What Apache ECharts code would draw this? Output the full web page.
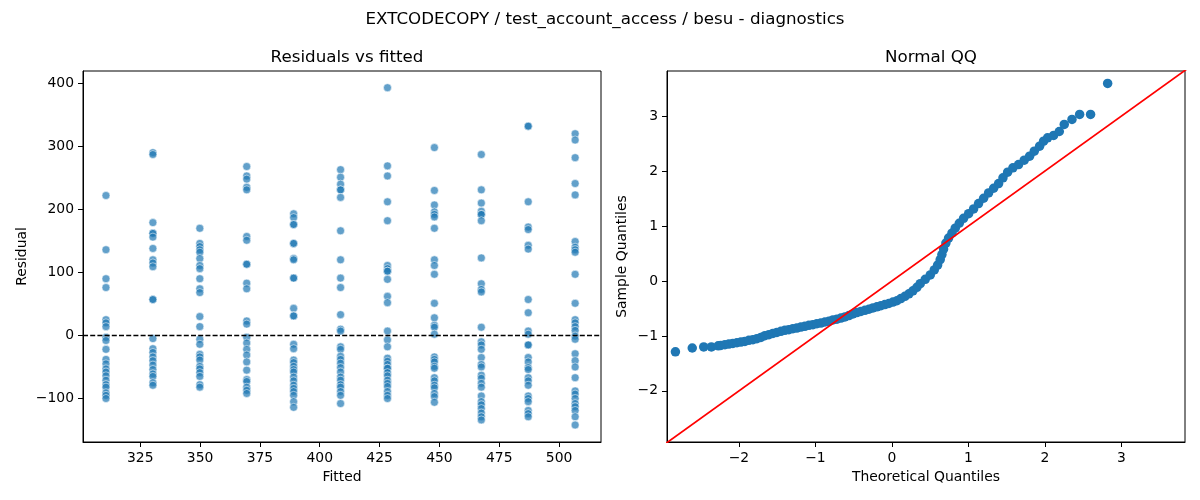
<!DOCTYPE html>
<html>
<head>
<meta charset="utf-8">
<title>EXTCODECOPY / test_account_access / besu - diagnostics</title>
<script src="https://cdn.jsdelivr.net/npm/echarts@6/dist/echarts.min.js"></script>
<style>
  html, body { margin: 0; padding: 0; background: #fff; }
  #chart { width: 1200px; height: 500px; }
</style>
</head>
<body>
<div id="chart"></div>
<script>
// fitted value of each column in the residual plot
var fittedValues = [310.7, 330.3, 349.9, 369.5, 389.1, 408.7, 428.3, 447.9, 467.5, 487.1, 506.7];

// residuals read per column (repeated values = overlapping points)
var residCol1 = [222, 136, 90, 76, 25, 20, 14, -3, -8, -22, -38, -45, -53, -58, -64, -71, -78, -82, -91, -95, -100];
var residCol2 = [290, 287, 179, 162, 162, 156, 138, 120, 115, 109, 57, 57, -5, -21, -27, -34, -40, -47, -54, -61, -65, -75, -79];
var residCol3 = [170, 146, 141, 136, 132, 122, 111, 106, 90, 74, 68, 30, 14, -6, -14, -30, -34, -39, -49, -53, -59, -65, -78, -82];
var residCol4 = [268, 253, 248, 235, 231, 157, 151, 113, 113, 83, 74, 23, 18, -3, -12, -22, -31, -42, -55, -70, -73, -82, -87, -92];
var residCol5 = [193, 187, 176, 176, 146, 146, 122, 120, 91, 91, 43, 31, 31, -14, -21, -39, -43, -49, -54, -58, -66, -72, -79, -84, -89, -95, -105, -114];
var residCol6 = [263, 251, 240, 231, 231, 219, 166, 120, 91, 76, 33, 10, 7, -18, -22, -33, -38, -44, -51, -58, -66, -71, -78, -82, -89, -95, -108];
var residCol7 = [393, 269, 253, 212, 182, 111, 106, 102, 102, 89, 62, 52, 7, -7, -18, -36, -41, -46, -52, -52, -59, -64, -71, -76, -81, -89, -95, -100];
var residCol8 = [298, 230, 207, 196, 192, 188, 170, 120, 111, 97, 51, 28, 16, 13, 2, -34, -38, -42, -49, -52, -67, -72, -79, -83, -92, -97, -106];
var residCol9 = [287, 231, 210, 197, 192, 192, 182, 123, 82, 73, 69, 13, -10, -15, -22, -35, -46, -50, -63, -68, -76, -82, -96, -105, -110, -116, -123, -129, -134];
var residCol10 = [332, 332, 212, 172, 168, 143, 137, 57, 36, 7, 2, -15, -15, -35, -42, -51, -54, -67, -72, -79, -96, -100, -105, -119, -124, -129];
var residCol11 = [320, 310, 282, 241, 223, 149, 140, 136, 132, 97, 51, 25, 20, 14, 8, -1, -6, -29, -40, -50, -67, -88, -93, -100, -108, -113, -119, -129, -142];

// QQ plot: theoretical quantile and sample quantile
var qqTheoretical = [
  -2.83, -2.61, -2.46, -2.36, -2.27,
  -2.236, -2.183, -2.131, -2.079, -2.026, -1.974, -1.922, -1.870, -1.817, -1.765,
  -1.713, -1.661, -1.608, -1.556, -1.504, -1.451, -1.399, -1.347, -1.295, -1.243,
  -1.190, -1.138, -1.085, -1.033, -0.981, -0.929, -0.876, -0.824, -0.772, -0.719,
  -0.667, -0.615, -0.562, -0.510, -0.458, -0.406, -0.353, -0.301, -0.249, -0.196,
  -0.144, -0.092, -0.040, 0.013, 0.065, 0.117, 0.170, 0.222, 0.274, 0.326,
  0.370, 0.435, 0.501, 0.553, 0.597, 0.631, 0.653, 0.675, 0.705, 0.740,
  0.784, 0.827, 0.880, 0.936, 1.002, 1.067, 1.132, 1.198, 1.263, 1.329,
  1.394, 1.451, 1.512, 1.581, 1.655, 1.729, 1.799, 1.860, 1.930, 1.982,
  2.034, 2.113, 2.187, 2.252, 2.353, 2.453, 2.596, 2.819
];
var qqSample = [
  -1.29, -1.22, -1.20, -1.20, -1.18,
  -1.172, -1.160, -1.148, -1.136, -1.124, -1.112, -1.100, -1.081, -1.069, -1.051,
  -1.027, -0.996, -0.978, -0.954, -0.936, -0.917, -0.899, -0.887, -0.869, -0.857,
  -0.838, -0.826, -0.808, -0.796, -0.778, -0.766, -0.747, -0.735, -0.71, -0.695,
  -0.675, -0.655, -0.63, -0.60, -0.575, -0.555, -0.535, -0.515, -0.49, -0.47,
  -0.45, -0.43, -0.41, -0.385, -0.36, -0.32, -0.28, -0.235, -0.18, -0.115,
  -0.05, 0.03, 0.11, 0.20, 0.29, 0.39, 0.48, 0.58, 0.69, 0.78,
  0.87, 0.96, 1.05, 1.14, 1.225, 1.311, 1.408, 1.505, 1.602, 1.687,
  1.772, 1.876, 1.979, 2.058, 2.118, 2.197, 2.270, 2.361, 2.452, 2.543,
  2.604, 2.647, 2.719, 2.847, 2.938, 3.029, 3.029, 3.594
];
var qqLine = [[-3, -3], [4, 4]];

// tick labels
var fittedTicks = [325, 350, 375, 400, 425, 450, 475, 500];
var residTicks = [-100, 0, 100, 200, 300, 400];
var theoTicks = [-2, -1, 0, 1, 2, 3];
var sampleTicks = [-2, -1, 0, 1, 2, 3];

var residCols = [residCol1, residCol2, residCol3, residCol4, residCol5, residCol6,
  residCol7, residCol8, residCol9, residCol10, residCol11];
var residData = [];
residCols.forEach(function (col, i) {
  col.forEach(function (r) { residData.push([fittedValues[i], r]); });
});
var qqData = qqTheoretical.map(function (t, i) { return [t, qqSample[i]]; });

var FONT = 'DejaVu Sans';
function minus(v) { return String(v).replace('-', '\u2212'); }

function makeAxis(gridIndex, min, max, ticks, name, nameGap, isY) {
  return {
    type: 'value',
    gridIndex: gridIndex,
    min: min,
    max: max,
    name: name,
    nameLocation: 'middle',
    nameGap: nameGap,
    nameRotate: isY ? 90 : 0,
    nameTextStyle: { fontFamily: FONT, fontSize: 13.9, color: '#000' },
    axisLine: { show: true, onZero: false, lineStyle: { color: '#000', width: 1 } },
    axisTick: { show: true, length: 5, customValues: ticks, lineStyle: { color: '#000', width: 1 } },
    axisLabel: {
      customValues: ticks, margin: 9,
      fontFamily: FONT, fontSize: 13.9, color: '#000',
      formatter: minus
    },
    splitLine: { show: false }
  };
}

var chart = echarts.init(document.getElementById('chart'));
var option = {
  animation: false,
  backgroundColor: '#fff',
  title: [
    { text: 'EXTCODECOPY / test_account_access / besu - diagnostics', left: 600, top: 6, textAlign: 'center',
      textStyle: { fontFamily: FONT, fontSize: 16.7, fontWeight: 'normal', color: '#000' } },
    { text: 'Residuals vs fitted', left: 342, top: 44, textAlign: 'center',
      textStyle: { fontFamily: FONT, fontSize: 16.7, fontWeight: 'normal', color: '#000' } },
    { text: 'Normal QQ', left: 926, top: 44, textAlign: 'center',
      textStyle: { fontFamily: FONT, fontSize: 16.7, fontWeight: 'normal', color: '#000' } }
  ],
  grid: [
    { left: 83, top: 71, width: 518, height: 371, show: true, borderColor: '#000', borderWidth: 1, backgroundColor: 'transparent' },
    { left: 667, top: 71, width: 518, height: 371, show: true, borderColor: '#000', borderWidth: 1, backgroundColor: 'transparent' }
  ],
  xAxis: [
    makeAxis(0, 301.1, 517.5, fittedTicks, 'Fitted', 27, false),
    makeAxis(1, -2.94, 3.83, theoTicks, 'Theoretical Quantiles', 27, false)
  ],
  yAxis: [
    makeAxis(0, -169, 419.5, residTicks, 'Residual', 54, true),
    makeAxis(1, -2.93, 3.82, sampleTicks, 'Sample Quantiles', 38, true)
  ],
  series: [
    {
      name: 'residuals',
      type: 'scatter',
      xAxisIndex: 0, yAxisIndex: 0,
      symbolSize: 8,
      itemStyle: { color: '#1f77b4', opacity: 0.7, borderColor: '#fff', borderWidth: 0.75 },
      data: residData,
      markLine: {
        silent: true,
        symbol: 'none',
        label: { show: false },
        lineStyle: { color: '#000', type: [5, 2.2], width: 1.3 },
        data: [{ yAxis: 0 }]
      }
    },
    {
      name: 'qq',
      type: 'scatter',
      xAxisIndex: 1, yAxisIndex: 1,
      symbolSize: 9.5,
      itemStyle: { color: '#1f77b4', opacity: 1 },
      data: qqData
    },
    {
      name: 'reference',
      type: 'line',
      xAxisIndex: 1, yAxisIndex: 1,
      symbol: 'none',
      clip: true,
      z: 5,
      lineStyle: { color: '#ff0000', width: 1.8 },
      data: qqLine
    }
  ]
};
chart.setOption(option);
</script>
</body>
</html>
